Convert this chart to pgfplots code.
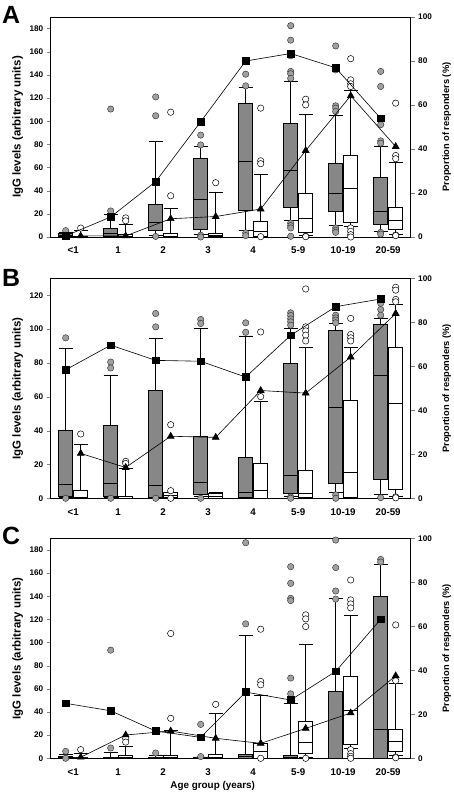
\documentclass[border=0pt]{standalone}
\usepackage{pgfplots}
\pgfplotsset{compat=1.18}
\usepgfplotslibrary{statistics}
\usepackage{fontspec}
\setmainfont{Liberation Sans}
\definecolor{boxgrey}{RGB}{135,135,135}
\definecolor{circgrey}{RGB}{160,160,160}

\pgfplotsset{
  boxplot/draw direction=y,
  boxplot/box extend=0.31,
  boxplot/whisker extend=0.31,
  tf/.style={font=\bfseries\fontsize{8.2}{9}\selectfont},
  leftax/.style={width=360bp,height=220bp,scale only axis,
    xmin=-0.5,xmax=7.5,ymin=0,
    xtick={0,...,7},xticklabels={<1,1,2,3,4,5-9,10-19,20-59},
    xtick style={draw=none},ytick pos=left,tick align=outside,
    major tick length=4bp,clip=false,
    yticklabel style={tf},
    xticklabel style={font=\bfseries\fontsize{9.8}{10}\selectfont,yshift=-2.5bp},
    /pgf/number format/assume math mode=true,
    axis line style={line width=0.6bp},
    ylabel={IgG levels (arbitrary units)},
    ylabel style={at={(axis description cs:-0.092,0.5)},anchor=center,
      font=\bfseries\fontsize{11.5}{12}\selectfont},
  },
  rightax/.style={width=360bp,height=220bp,scale only axis,
    xmin=-0.5,xmax=7.5,ymin=0,ymax=100,
    axis y line*=right,axis x line=none,
    ytick={0,20,...,100},tick align=outside,major tick length=4bp,
    ticklabel style={tf},clip=false,
    /pgf/number format/assume math mode=true,
    axis line style={line width=0.6bp},
    ylabel={Proportion of responders (\%)},
    ylabel style={at={(axis description cs:1.1,0.5)},anchor=center,
      font=\bfseries\fontsize{9.3}{10}\selectfont},
  },
  gb/.style={draw=black,line width=0.5bp,fill=boxgrey,mark=*,mark size=3.2bp,
    mark options={fill=circgrey,draw=black!85,line width=0.4bp}},
  wb/.style={draw=black,line width=0.5bp,fill=white,mark=*,mark size=3.2bp,
    mark options={fill=white,draw=black,line width=0.5bp}},
  sq/.style={black,line width=0.6bp,mark=square*,mark size=3.3bp,mark options={solid,fill=black}},
  tr/.style={black,line width=0.6bp,mark=triangle*,mark size=3.9bp,mark options={solid,fill=black}},
}
% style, pos, lw, q1, med, q3, uw, outlier table
\newcommand\B[8]{\addplot[#1,boxplot prepared={draw direction=y,draw position=#2,lower whisker=#3,lower quartile=#4,median=#5,upper quartile=#6,upper whisker=#7}] table[row sep=\\,y index=0]{#8};}
\newcommand\Bn[7]{\addplot[#1,boxplot prepared={draw direction=y,draw position=#2,lower whisker=#3,lower quartile=#4,median=#5,upper quartile=#6,upper whisker=#7}] coordinates {};}

\begin{document}
\begin{tikzpicture}
\useasboundingbox (0,0) rectangle (454bp,-795bp);
% ================= Panel A =================
\begin{axis}[leftax,at={(50.7bp,-17bp)},anchor=north west,ymax=190,ytick={0,20,...,180}]
\B{gb}{-0.1667}{0}{0.3}{1.5}{3}{4.5}{d\\ 5.5\\}
\B{gb}{0.8333}{0}{0.5}{3.5}{7.8}{19.6}{d\\ 22.5\\ 110.5\\}
\B{gb}{1.8333}{1.5}{6}{13}{28.5}{82.5}{d\\ 121\\ 104.7\\ 0.5\\}
\B{gb}{2.8333}{2.5}{6.9}{32.8}{68}{78}{d\\ 88\\ 79.5\\ 1.5\\ 0\\}
\B{gb}{3.8333}{5.5}{23}{65.8}{115.6}{129.4}{d\\ 140.6\\ 130.5\\ 3.5\\ 1.2\\}
\B{gb}{4.8333}{14.4}{25.3}{57.5}{98}{134.8}{d\\ 182.5\\ 170\\ 156.5\\ 143\\ 141\\ 137\\ 12\\ 9.8\\ 7.8\\ 0.6\\}
\B{gb}{5.8333}{10}{22.4}{38.2}{63.8}{105}{d\\ 165\\ 144.3\\ 113.3\\ 111.3\\ 108.4\\ 7.8\\ 5.8\\ 4\\}
\B{gb}{6.8333}{4.9}{10.6}{21.9}{51.8}{78.8}{d\\ 143\\ 130\\ 97\\ 83\\ 81\\ 4\\ 2.5\\}
\B{wb}{0.1667}{0}{0}{0.5}{1}{5.5}{d\\ 7.7\\}
\B{wb}{1.1667}{0}{0}{0.8}{2}{11.2}{d\\ 16.5\\ 14\\}
\B{wb}{2.1667}{0}{0.5}{1}{3}{24.7}{d\\ 35.6\\ 107.8\\}
\B{wb}{3.1667}{0}{0.3}{1.5}{3}{38.5}{d\\ 46.9\\}
\B{wb}{4.1667}{0}{0.6}{4.9}{13.2}{54.3}{d\\ 65.8\\ 63.3\\ 111.3\\ 0.3\\}
\B{wb}{5.1667}{1.5}{4}{16.4}{38}{106.1}{d\\ 119\\ 114.1\\ 0.6\\ 0.3\\}
\B{wb}{6.1667}{9.2}{12.7}{41.7}{70.4}{127}{d\\ 154\\ 135.7\\ 132.3\\ 130\\ 7.8\\ 4.9\\ 2\\ 0\\}
\B{wb}{7.1667}{2.6}{6.9}{14.4}{25.6}{64.4}{d\\ 115.6\\ 70.4\\ 67.6\\ 1.7\\ 1.2\\}
\end{axis}
\begin{axis}[rightax,at={(50.7bp,-17bp)},anchor=north west]
\addplot[sq] coordinates {(-0.1667,0.5) (0.8333,9.1) (1.8333,25.2) (2.8333,52.4) (3.8333,80) (4.8333,83.4) (5.8333,76.9) (6.8333,53.9)};
\addplot[tr] coordinates {(0.1667,0.5) (1.1667,0.5) (2.1667,8.3) (3.1667,9.3) (4.1667,12.7) (5.1667,39.3) (6.1667,64.2) (7.1667,41.1)};
\end{axis}
% ================= Panel B =================
\begin{axis}[leftax,at={(50.7bp,-278.3bp)},anchor=north west,ymax=130,ytick={0,20,...,120}]
\B{gb}{-0.1667}{0.5}{1}{8.3}{40.4}{88.4}{d\\ 94.8\\ 0\\}
\B{gb}{0.8333}{0.5}{1}{9.1}{43.1}{73}{d\\ 80.5\\ 77\\ 0\\}
\B{gb}{1.8333}{0.5}{0.8}{7.7}{63.7}{94.4}{d\\ 109.2\\ 101.3\\ 0\\}
\B{gb}{2.8333}{1.5}{2.4}{9.5}{36.4}{100.3}{d\\ 105.7\\ 103.3\\ 0\\}
\B{gb}{3.8333}{0}{0.4}{3.6}{24.1}{96}{d\\ 103.7\\ 98.1\\}
\B{gb}{4.8333}{1.5}{3.2}{13.9}{80.1}{100.5}{d\\ 109.6\\ 108\\ 106\\ 104.3\\ 102.3\\ 0.8\\ 0\\}
\B{gb}{5.8333}{3.4}{9.1}{53.8}{99.3}{103.3}{d\\ 108.2\\ 106.6\\ 105.3\\ 103.7\\ 2\\ 0\\}
\B{gb}{6.8333}{2.4}{11.3}{73}{102.7}{106.6}{d\\ 117.5\\ 115.2\\ 111.6\\ 108.2\\ 0.4\\}
\B{wb}{0.1667}{0}{0}{0.4}{4.7}{32}{d\\ 38\\}
\B{wb}{1.1667}{0}{0}{0.3}{1.2}{18}{d\\ 21.8\\ 20.6\\}
\B{wb}{2.1667}{0.4}{0.4}{2}{3.6}{3.8}{d\\ 43.5\\ 4.5\\ 0\\}
\Bn{wb}{3.1667}{0}{0.3}{1.5}{3.2}{3.4}
\B{wb}{4.1667}{0}{0}{4.7}{20.6}{57.4}{d\\ 98.3\\ 60.1\\}
\B{wb}{5.1667}{0}{0.4}{2.8}{16.6}{89}{d\\ 123.7\\ 101.3\\ 98.9\\ 96.4\\ 93\\}
\B{wb}{6.1667}{0.5}{0.8}{15.6}{57.8}{89.4}{d\\ 106.3\\ 96.8\\ 94.8\\ 93\\}
\B{wb}{7.1667}{1}{5.3}{56.2}{89.4}{114.8}{d\\ 124.7\\ 123\\ 117.5\\ 116.1\\ 0.8\\ 0.3\\}
\end{axis}
\begin{axis}[rightax,at={(50.7bp,-278.3bp)},anchor=north west]
\addplot[sq] coordinates {(-0.1667,58.4) (0.8333,69.6) (1.8333,62.7) (2.8333,62.3) (3.8333,55.1) (4.8333,74.1) (5.8333,87.1) (6.8333,90.6)};
\addplot[tr] coordinates {(0.1667,20.4) (1.1667,14) (2.1667,28.2) (3.1667,27.7) (4.1667,49) (5.1667,47.8) (6.1667,64.2) (7.1667,84)};
\end{axis}
% ================= Panel C =================
\begin{axis}[leftax,at={(50.7bp,-538.3bp)},anchor=north west,ymax=190,ytick={0,20,...,180},
  xlabel={Age group (years)},
  xlabel style={at={(axis description cs:0.45,-0.124)},anchor=center,font=\bfseries\fontsize{9.9}{11}\selectfont}]
\B{gb}{-0.1667}{0}{0}{0.5}{1.5}{3.7}{d\\ 6\\ 0\\}
\B{gb}{0.8333}{0}{0}{0.3}{0.8}{5}{d\\ 8.9\\ 93.4\\}
\B{gb}{1.8333}{0}{0}{0.3}{0.8}{3}{d\\ 4.6\\}
\B{gb}{2.8333}{0}{0}{0.3}{0.8}{1.2}{d\\ 29.3\\ 1.5\\}
\B{gb}{3.8333}{0}{0}{1.5}{3.2}{106.3}{d\\ 186.2\\ 116.1\\}
\B{gb}{4.8333}{0}{0}{1}{2.3}{47.7}{d\\ 165.5\\ 151.1\\ 138.2\\ 136.2\\ 69.3\\ 55.7\\}
\B{gb}{5.8333}{0}{0}{0}{58.3}{138.2}{d\\ 188.5\\ 164.7\\ 144.5\\ 137.5\\}
\B{gb}{6.8333}{0}{0}{25.3}{140.2}{167.5}{d\\ 171.8\\ 169.5\\}
\B{wb}{0.1667}{0}{0}{0.3}{1}{4.6}{d\\ 7.5\\}
\B{wb}{1.1667}{0}{0}{1}{2.3}{10.3}{d\\ 17\\ 14\\}
\B{wb}{2.1667}{0}{0}{1}{2.9}{24.1}{d\\ 34.5\\ 107.8\\}
\B{wb}{3.1667}{0}{0}{1}{3.2}{38.5}{d\\ 46.6\\}
\B{wb}{4.1667}{0}{0}{6}{12.6}{54.6}{d\\ 66.4\\ 63.5\\ 111.5\\ 0\\}
\B{wb}{5.1667}{1}{4}{13.8}{31.9}{98.6}{d\\ 123.9\\ 120.4\\ 113.8\\ 0\\}
\B{wb}{6.1667}{8.6}{11.8}{41.4}{70.7}{123.9}{d\\ 154\\ 136.8\\ 133.3\\ 129.9\\ 7.5\\ 4\\ 1.7\\ 0\\}
\B{wb}{7.1667}{2.3}{6.3}{14.4}{25.3}{64.4}{d\\ 115.2\\ 67\\ 1.1\\ 0.5\\}
\end{axis}
\begin{axis}[rightax,at={(50.7bp,-538.3bp)},anchor=north west]
\addplot[sq] coordinates {(-0.1667,25) (0.8333,21.6) (1.8333,12.4) (2.8333,9.5) (3.8333,30.1) (4.8333,26.5) (5.8333,39.5) (6.8333,63.2)};
\addplot[tr] coordinates {(0.1667,0.5) (1.1667,10.6) (2.1667,12.4) (3.1667,9.1) (4.1667,6.8) (5.1667,13.6) (6.1667,20.6) (7.1667,37.5)};
\end{axis}
% panel letters
\node[anchor=north west,inner sep=0pt,font=\bfseries\fontsize{25}{25}\selectfont] at (2bp,-6bp) {A};
\node[anchor=north west,inner sep=0pt,font=\bfseries\fontsize{25}{25}\selectfont] at (2bp,-269bp) {B};
\node[anchor=north west,inner sep=0pt,font=\bfseries\fontsize{25}{25}\selectfont] at (2bp,-527bp) {C};
\end{tikzpicture}
\end{document}
